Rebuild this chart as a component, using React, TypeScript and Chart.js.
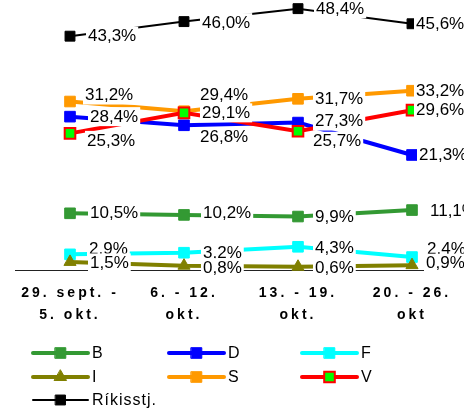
import React, { useEffect, useRef } from 'react';
import { Chart, registerables } from 'chart.js';

Chart.register(...registerables);

const FONT = '"Liberation Sans", Arial, sans-serif';

// ---- data ----
const CATEGORIES: string[][] = [
  ['29. sept. -', '5. okt.'],
  ['6. - 12.', 'okt.'],
  ['13. - 19.', 'okt.'],
  ['20. - 26.', 'okt'],
];
const B_VALUES = [10.5, 10.2, 9.9, 11.1];
const D_VALUES = [28.4, 26.8, 27.3, 21.3];
const F_VALUES = [2.9, 3.2, 4.3, 2.4];
const I_VALUES = [1.5, 0.8, 0.6, 0.9];
const S_VALUES = [31.2, 29.4, 31.7, 33.2];
const V_VALUES = [25.3, 29.1, 25.7, 29.6];
const GOV_VALUES = [43.3, 46.0, 48.4, 45.6];
const Y_MIN = 0;
const Y_MAX = 50;

// label text overrides (as printed in the source)
const LABEL_OVERRIDES: Record<string, string> = { 'F-3': '2.4%' };

// ---- label placement (offset of label's left edge / vertical centre from its point) ----
const OFF_B = [[20, 0], [19, -2], [17, 0], [18, 1]];
const OFF_D = [[20, 0], [16, 12], [17, -1.5], [7, 0]];
const OFF_F = [[19, -6], [19, 0], [17, 1], [15, -8]];
const OFF_I = [[20, 1], [19, 2], [17, 1], [14, -2]];
const OFF_S = [[15, -6.5], [16, -16], [17, 0], [4, 0]];
const OFF_V = [[17, 7], [18, 0], [15, 10], [4, 0]];
const OFF_GOV = [[18, 0], [18, 1], [18, 0], [4, 0]];

type Series = {
  key: string;
  name: string;
  data: number[];
  color: string;
  lineWidth: number;
  pointStyle: 'rect' | 'triangle';
  radius: number;
  fill: string;
  border: string;
  borderWidth: number;
  offsets: number[][];
};

const SERIES: Series[] = [
  { key: 'B', name: 'B', data: B_VALUES, color: '#339933', lineWidth: 4, pointStyle: 'rect', radius: 7.5, fill: '#339933', border: '#339933', borderWidth: 1, offsets: OFF_B },
  { key: 'D', name: 'D', data: D_VALUES, color: '#0000ff', lineWidth: 4, pointStyle: 'rect', radius: 7.5, fill: '#0000ff', border: '#0000ff', borderWidth: 1, offsets: OFF_D },
  { key: 'F', name: 'F', data: F_VALUES, color: '#00ffff', lineWidth: 4, pointStyle: 'rect', radius: 7.5, fill: '#00ffff', border: '#00ffff', borderWidth: 1, offsets: OFF_F },
  { key: 'I', name: 'I', data: I_VALUES, color: '#808000', lineWidth: 4, pointStyle: 'triangle', radius: 7, fill: '#808000', border: '#808000', borderWidth: 1, offsets: OFF_I },
  { key: 'S', name: 'S', data: S_VALUES, color: '#ff9900', lineWidth: 4, pointStyle: 'rect', radius: 7.5, fill: '#ff9900', border: '#ff9900', borderWidth: 1, offsets: OFF_S },
  { key: 'V', name: 'V', data: V_VALUES, color: '#ff0000', lineWidth: 4, pointStyle: 'rect', radius: 7.5, fill: '#00ff00', border: '#ff0000', borderWidth: 2, offsets: OFF_V },
  { key: 'GOV', name: 'Ríkisstj.', data: GOV_VALUES, color: '#000000', lineWidth: 2, pointStyle: 'rect', radius: 7, fill: '#000000', border: '#000000', borderWidth: 1, offsets: OFF_GOV },
];

// legend grid: [series index, column, row]
const LEGEND_LAYOUT = [
  [0, 0, 0], [1, 1, 0], [2, 2, 0],
  [3, 0, 1], [4, 1, 1], [5, 2, 1],
  [6, 0, 2],
];
const LEGEND_COL_X = [33, 169, 302];
const LEGEND_ROW_Y = [353, 377, 400];
const LEGEND_LINE_LEN = 55;

function fmt(s: Series, i: number): string {
  const o = LABEL_OVERRIDES[`${s.key}-${i}`];
  if (o) return o;
  return s.data[i].toFixed(1).replace('.', ',') + '%';
}

function drawMarker(ctx: CanvasRenderingContext2D, s: Series, x: number, y: number) {
  ctx.save();
  ctx.fillStyle = s.fill;
  ctx.strokeStyle = s.border;
  ctx.lineWidth = s.borderWidth;
  ctx.beginPath();
  if (s.pointStyle === 'triangle') {
    const r = s.radius;
    ctx.moveTo(x, y - r);
    ctx.lineTo(x + r * Math.sqrt(3) / 2, y + r / 2);
    ctx.lineTo(x - r * Math.sqrt(3) / 2, y + r / 2);
    ctx.closePath();
  } else {
    const h = (Math.SQRT1_2 * s.radius);
    ctx.rect(x - h, y - h, 2 * h, 2 * h);
  }
  ctx.fill();
  ctx.stroke();
  ctx.restore();
}

const spacingPlugin = {
  id: 'tickSpacing',
  beforeDraw(chart: any) {
    (chart.ctx as any).letterSpacing = '3px';
  },
  beforeDatasetsDraw(chart: any) {
    (chart.ctx as any).letterSpacing = '0px';
  },
};

const labelsPlugin = {
  id: 'valueLabels',
  afterDatasetsDraw(chart: any) {
    const ctx: CanvasRenderingContext2D = chart.ctx;
    ctx.save();
    (ctx as any).letterSpacing = '0px';
    ctx.font = `17px ${FONT}`;
    ctx.textBaseline = 'middle';
    ctx.textAlign = 'left';
    SERIES.forEach((s, si) => {
      const meta = chart.getDatasetMeta(si);
      meta.data.forEach((pt: any, i: number) => {
        const text = fmt(s, i);
        const [dx, dy] = s.offsets[i];
        const x = pt.x + dx;
        const y = pt.y + dy;
        const w = ctx.measureText(text).width;
        ctx.fillStyle = '#ffffff';
        ctx.fillRect(x - 2, y - 9.5, w + 4, 19);
        ctx.fillStyle = '#000000';
        ctx.fillText(text, x, y + 0.5);
      });
    });
    ctx.restore();
  },
};

const legendPlugin = {
  id: 'gridLegend',
  afterDraw(chart: any) {
    const ctx: CanvasRenderingContext2D = chart.ctx;
    ctx.save();
    (ctx as any).letterSpacing = '1px';
    ctx.font = `16px ${FONT}`;
    ctx.textBaseline = 'middle';
    ctx.textAlign = 'left';
    LEGEND_LAYOUT.forEach(([si, col, row]) => {
      const s = SERIES[si];
      const x0 = LEGEND_COL_X[col];
      const y = LEGEND_ROW_Y[row];
      ctx.strokeStyle = s.color;
      ctx.lineWidth = s.lineWidth;
      ctx.lineCap = 'round';
      ctx.beginPath();
      ctx.moveTo(x0, y);
      ctx.lineTo(x0 + LEGEND_LINE_LEN, y);
      ctx.stroke();
      drawMarker(ctx, s, x0 + LEGEND_LINE_LEN / 2, y);
      ctx.fillStyle = '#000000';
      ctx.fillText(s.name, x0 + LEGEND_LINE_LEN + 4, y + 1);
    });
    (ctx as any).letterSpacing = '0px';
    ctx.restore();
  },
};

export default function App() {
  const ref = useRef<HTMLCanvasElement | null>(null);

  useEffect(() => {
    if (!ref.current) return;
    const n = SERIES.length;
    const chart = new Chart(ref.current, {
      type: 'line',
      data: {
        datasets: SERIES.map((s, si) => ({
          label: s.name,
          data: s.data.map((v, i) => ({ x: i, y: v })),
          borderColor: s.color,
          backgroundColor: s.fill,
          borderWidth: s.lineWidth,
          pointStyle: s.pointStyle,
          pointRadius: s.radius,
          pointBackgroundColor: s.fill,
          pointBorderColor: s.border,
          pointBorderWidth: s.borderWidth,
          tension: 0,
          fill: false,
          clip: false,
          order: n - si,
        })),
      },
      options: {
        animation: false,
        responsive: false,
        maintainAspectRatio: false,
        events: [],
        layout: { autoPadding: false, padding: { left: 15, right: 0, top: 0, bottom: 0 } },
        plugins: {
          legend: { display: false },
          tooltip: { enabled: false },
          title: { display: false },
        },
        scales: {
          x: {
            type: 'linear',
            min: -55 / 114,
            max: 3 + 52 / 114,
            grid: { display: false, drawTicks: false },
            border: { display: true, color: '#222222', width: 1 },
            afterBuildTicks: (scale: any) => {
              scale.ticks = CATEGORIES.map((_, i) => ({ value: i }));
            },
            afterFit: (scale: any) => {
              scale.height = 139;
              scale.paddingLeft = 0;
              scale.paddingRight = 0;
            },
            ticks: {
              autoSkip: false,
              maxRotation: 0,
              minRotation: 0,
              padding: 12,
              color: '#000000',
              font: { family: FONT, size: 14, weight: 'bold', lineHeight: 22 / 14 },
              callback: (v: any) => CATEGORIES[Math.round(Number(v))] ?? '',
            },
          },
          y: {
            type: 'linear',
            display: false,
            min: Y_MIN,
            max: Y_MAX,
          },
        },
      } as any,
      plugins: [spacingPlugin, labelsPlugin, legendPlugin],
    });
    return () => chart.destroy();
  }, []);

  return (
    <div style={{ position: 'absolute', left: 0, top: 0, width: 464, height: 409, background: '#ffffff' }}>
      <canvas ref={ref} width={464} height={409} style={{ display: 'block', width: 464, height: 409 }} />
    </div>
  );
}
